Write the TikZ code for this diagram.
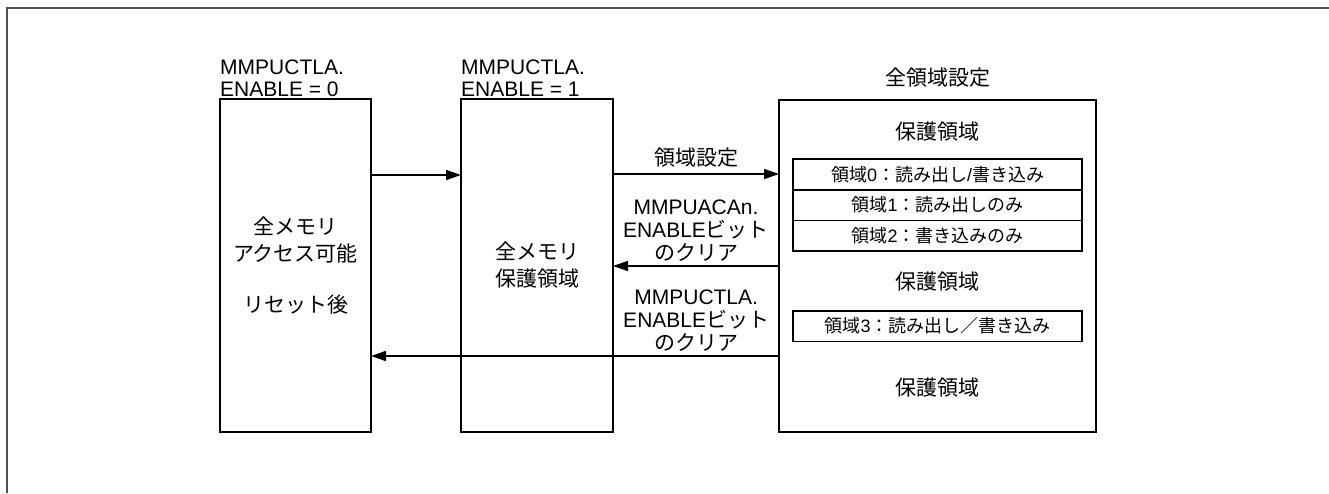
\documentclass[tikz,border=0pt]{standalone}
\usepackage{fontspec}
\setmainfont{Liberation Sans}
\newfontfamily\jpfont{Noto Sans CJK JP}
\newcommand{\jt}[1]{{\jpfont #1}}
\usetikzlibrary{arrows.meta,positioning}

\definecolor{frameline}{HTML}{505050}

\begin{document}
\begin{tikzpicture}[x=1pt,y=-1pt,
  box/.style={draw, line width=1.7pt, minimum height=333pt, inner sep=0pt,
    outer sep=0pt, align=center, font=\fontsize{21}{27}\selectfont},
  regbox/.style={draw, line width=1.7pt, minimum width=289pt, minimum height=30.7pt,
    inner sep=0pt, outer sep=0pt, font=\fontsize{18}{22}\selectfont},
  txt/.style={inner sep=0pt, font=\fontsize{21}{24}\selectfont},
  lbl/.style={inner sep=0pt, align=center, font=\fontsize{21}{23}\selectfont},
  arr/.style={-{Triangle[length=15pt,width=10pt]}, line width=1.6pt}]

\useasboundingbox (0,0) rectangle (1329,493);

% ---- Frame ----
\draw[frameline, line width=2pt] (7,493) -- (7,7.5) -- (1329,7.5);

% ---- Register states ----
\node[box, minimum width=151pt] (A) at (295.5,265.5)
    {\jt{全メモリ}\\\jt{アクセス可能}\\[24pt]\jt{リセット後}};
\node[box, minimum width=152pt] (B) at (537,265.5)
    {\jt{全メモリ}\\\jt{保護領域}};
\node[box, minimum width=317pt, minimum height=332pt] (C) at (937.5,266) {};

\node[txt, align=left, anchor=south west, font=\fontsize{21}{22}\selectfont]
    (Alab) at ([yshift=2pt]A.north west) {MMPUCTLA.\\ENABLE = 0};
\node[txt, align=left, anchor=south west, font=\fontsize{21}{22}\selectfont]
    (Blab) at ([yshift=2pt]B.north west) {MMPUCTLA.\\ENABLE = 1};
\node[txt, above=13pt of C] (Clab) {\jt{全領域設定}};

% ---- Regions ----
\node[txt] (p0) at (937.5,131.5) {\jt{保護領域}};
\node[regbox, below=59pt of C.north] (r0) {\jt{領域}0\jt{：読み出し}/\jt{書き込み}};
\node[regbox, below=0pt of r0] (r1) {\jt{領域}1\jt{：読み出しのみ}};
\node[regbox, below=0pt of r1] (r2) {\jt{領域}2\jt{：書き込みのみ}};
\node[txt] (p1) at (937.5,282) {\jt{保護領域}};
\node[regbox] (r3) at (937.5,326) {\jt{領域}3\jt{：読み出し／書き込み}};
\node[txt] (p2) at (937.5,388) {\jt{保護領域}};

% ---- Transitions ----
\draw[arr] (A.east |- 0,175) -- (B.west |- 0,175);
\draw[arr] (B.east |- 0,174) -- node[lbl, above=6pt] (l0) {\jt{領域設定}} (C.west |- 0,174);
\draw[arr] (C.west |- 0,266) -- node[lbl, above=4pt] (l1)
    {MMPUACAn.\\ENABLE\jt{ビット}\\\jt{のクリア}} (B.east |- 0,266);
\draw[arr] (C.west |- 0,356) -- node[lbl, above=4pt, pos=0.203] (l2)
    {MMPUCTLA.\\ENABLE\jt{ビット}\\\jt{のクリア}} (A.east |- 0,356);

\end{tikzpicture}
\end{document}
